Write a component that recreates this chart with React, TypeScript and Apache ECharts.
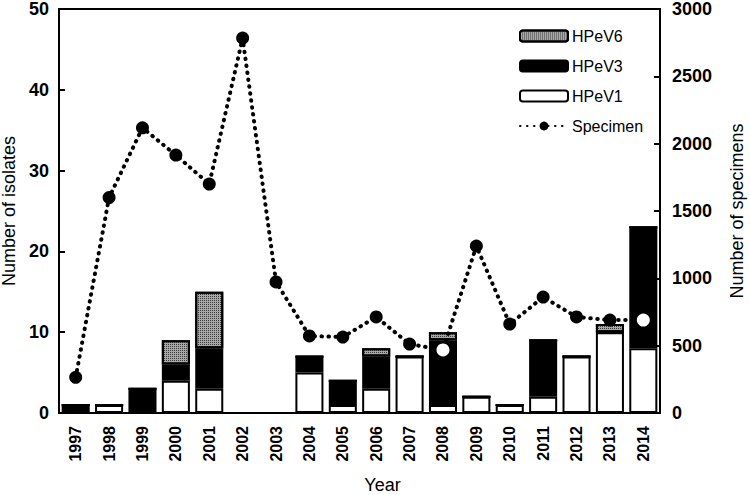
import React, { useEffect, useRef } from "react";
import * as echarts from "echarts";

const years = ["1997","1998","1999","2000","2001","2002","2003","2004","2005","2006","2007","2008","2009","2010","2011","2012","2013","2014"];
const hpev1 = [0, 1, 0, 4, 3, 0, 0, 5, 1, 3, 7, 1, 2, 1, 2, 7, 10, 8];
const hpev3 = [1, 0, 3, 2, 5, 0, 0, 2, 3, 4, 0, 8, 0, 0, 7, 0, 0, 15];
const hpev6 = [0, 0, 0, 3, 7, 0, 0, 0, 0, 1, 0, 1, 0, 0, 0, 0, 1, 0];
const specimens = [265, 1600, 2118, 1915, 1700, 2784, 973, 572, 564, 713, 512, 468, 1240, 660, 861, 713, 690, 690];
// points that sit on a black bar are drawn white
const whiteMarkers = [false, false, false, false, false, false, false, false, false, false, false, true, false, false, false, false, false, true];
const leftTicks = { min: 0, max: 50, interval: 10 };
const rightTicks = { min: 0, max: 3000, interval: 500 };

const FONT = "Liberation Sans";

export default function App() {
  const ref = useRef<HTMLDivElement>(null);
  useEffect(() => {
    if (!ref.current) return;
    const chart = echarts.init(ref.current, null, { renderer: "svg" });
    const barBorder = { borderColor: "#000", borderWidth: 2 };
    chart.setOption({
      animation: false,
      backgroundColor: "#fff",
      textStyle: { fontFamily: FONT, color: "#000" },
      grid: {
        left: 59, right: 90, top: 9, bottom: 82,
        outerBoundsMode: "none", containLabel: false,
        show: true, borderColor: "#000", borderWidth: 2, backgroundColor: "transparent",
      },
      legend: {
        orient: "vertical",
        left: 519, top: 28, padding: 0,
        itemWidth: 48, itemHeight: 11, itemGap: 14,
        data: ["HPeV6", "HPeV3", "HPeV1", "Specimen"],
        textStyle: { fontFamily: FONT, fontSize: 16, color: "#000", padding: [0, 0, 0, -1] },
      },
      xAxis: {
        type: "category",
        data: years,
        name: "Year",
        nameLocation: "middle",
        nameGap: 63,
        nameTextStyle: { fontFamily: FONT, fontSize: 18, lineHeight: 18, color: "#000", padding: [0, 0, 0, 46] },
        axisLine: { lineStyle: { color: "#000", width: 2 } },
        axisTick: { inside: true, length: 6, lineStyle: { color: "#000", width: 2 } },
        axisLabel: { rotate: 90, margin: 13, fontFamily: FONT, fontSize: 16, fontWeight: "bold", color: "#000" },
      },
      yAxis: [
        {
          type: "value",
          ...leftTicks,
          name: "Number of isolates",
          nameLocation: "middle",
          nameGap: 37,
          nameRotate: 90,
          nameTextStyle: { fontFamily: FONT, fontSize: 18, lineHeight: 18, color: "#000" },
          splitLine: { show: false },
          axisLine: { show: true, lineStyle: { color: "#000", width: 2 } },
          axisTick: { show: true, inside: true, length: 6, lineStyle: { color: "#000", width: 2 } },
          axisLabel: { margin: 10, fontFamily: FONT, fontSize: 18, fontWeight: "bold", color: "#000" },
        },
        {
          type: "value",
          ...rightTicks,
          position: "right",
          name: "Number of specimens",
          nameLocation: "middle",
          nameGap: 68,
          nameRotate: 90,
          nameTextStyle: { fontFamily: FONT, fontSize: 18, lineHeight: 18, color: "#000" },
          splitLine: { show: false },
          axisLine: { show: true, lineStyle: { color: "#000", width: 2 } },
          axisTick: { show: true, inside: true, length: 6, lineStyle: { color: "#000", width: 2 } },
          axisLabel: {
            margin: 12, fontFamily: FONT, fontSize: 18, fontWeight: "bold", color: "#000",
            formatter: (v: number) => String(v),
          },
        },
      ],
      series: [
        {
          name: "HPeV1", type: "bar", stack: "iso", data: hpev1, barCategoryGap: "16%",
          itemStyle: { color: "#fff", ...barBorder },
        },
        {
          name: "HPeV3", type: "bar", stack: "iso", data: hpev3,
          itemStyle: { color: "#000", ...barBorder },
        },
        {
          name: "HPeV6", type: "bar", stack: "iso", data: hpev6,
          itemStyle: {
            color: "#a8a8a8", ...barBorder,
            decal: { symbol: "rect", symbolSize: 1, color: "#3a3a3a", dashArrayX: [1, 1], dashArrayY: [1, 1], rotation: 0 },
          },
        },
        {
          name: "Specimen", type: "line", yAxisIndex: 1, z: 5,
          data: specimens.map((v, i) => (whiteMarkers[i] ? { value: v, itemStyle: { color: "#fff" } } : v)),
          symbol: "circle", symbolSize: 13,
          itemStyle: { color: "#000" },
          lineStyle: { color: "#000", width: 4, type: [0.5, 6.5], cap: "round" },
        },
      ],
    });
    return () => chart.dispose();
  }, []);
  return <div ref={ref} style={{ width: 750, height: 495, position: "absolute", left: 0, top: 0 }} />;
}
